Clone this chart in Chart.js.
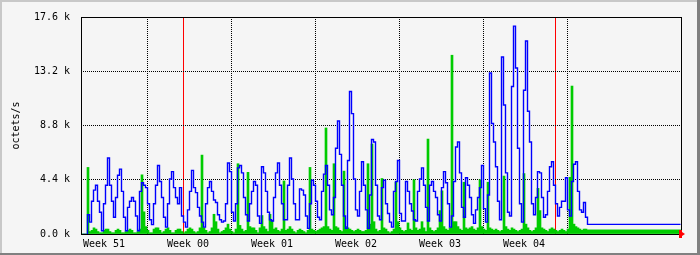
<!DOCTYPE html>
<html>
<head>
<meta charset="utf-8">
<script src="https://cdn.jsdelivr.net/npm/chart.js@4/dist/chart.umd.min.js"></script>
<style>
  html, body { margin: 0; padding: 0; background: #f5f5f5; }
  #wrap { width: 700px; height: 255px; }
</style>
</head>
<body>
<div id="wrap"><canvas id="mrtg" width="700" height="255"></canvas></div>
<script>
// --- Data (k octets/s), one value per 4 hours, oldest on the left ---
const outTraffic = [
  // Week 51
  0,0,0,1.6,1.0, 2.7,3.6,4.0,2.7,1.8, 0.3,2.5,4.0,6.2,4.0, 2.7,1.4,3.0,4.8,5.3,
  3.5,1.4,0.3,2.2,2.7, 3.0,2.7,1.5,0.3,3.5, 4.2,4.0,3.8,
  // Week 00
  2.5,1.2,0.8,2.5,4.0, 5.6,4.3,3.0,1.4,0.6, 2.5,4.5,5.1,3.8,3.0, 2.5,3.8,1.5,1.0,0.6,
  2.0,3.5,5.2,3.8,3.4, 2.2,1.5,1.0,0.6,2.5, 3.8,4.3,3.5,2.8,2.6, 1.6,1.2,1.0,1.1,2.5,
  5.8,5.1,
  // Week 01
  1.8,1.1,2.5,5.4,5.6, 5.0,3.0,1.6,1.1,2.5, 3.5,4.3,4.0,1.5,0.9, 5.5,5.0,3.5,1.8,1.2,
  1.1,3.0,5.0,5.8,4.0, 2.5,1.2,1.2,4.0,6.2, 4.5,2.5,1.2,1.2,3.7, 3.6,3.2,1.5,0.5,2.5,
  4.4,4.0,
  // Week 02
  2.7,1.4,1.2,3.5,4.9, 5.6,4.0,2.0,1.6,3.0, 7.0,9.2,6.5,4.0,1.5, 0.5,6.0,11.6,9.8,4.5,
  2.0,1.5,3.5,5.9,4.0, 2.0,0.5,3.2,7.7,7.5, 4.0,1.5,1.2,3.8,4.4, 2.5,1.7,1.0,0.6,3.5,
  4.3,6.0,
  // Week 03
  1.7,1.1,1.1,4.3,3.5, 2.5,1.9,1.2,1.1,3.5, 4.5,5.4,4.0,2.2,1.1, 4.0,4.3,3.5,3.0,1.6,
  1.1,3.8,5.1,4.2,2.5, 0.6,1.5,4.3,7.1,7.5, 5.0,2.2,1.4,4.6,4.0, 3.0,1.6,0.9,2.0,3.0,
  3.8,5.6,
  // Week 04
  2.1,1.0,3.2,13.1,9.0, 7.5,5.5,2.7,1.2,14.4, 10.5,5.0,1.8,1.5,12.0, 16.9,13.5,7.0,2.5,1.0,
  11.7,15.7,10.0,7.5,2.5, 1.6,3.0,5.1,5.0,3.0, 1.4,1.6,3.5,5.5,5.9, 4.0,2.5,1.5,2.2,2.7,
  2.7,4.6,
  // Week 05 and the idle tail
  2.0,1.5,4.3,5.7,5.9, 3.5,2.0,1.8,2.6,1.4,
  0.82,0.82,0.82,0.82,0.82, 0.82,0.82,0.82,0.82,0.82, 0.82,0.82,0.82,0.82,0.82,
  0.82,0.82,0.82,0.82,0.82, 0.82,0.82,0.82,0.82,0.82, 0.82,0.82,0.82,0.82,0.82,
  0.82,0.82,0.82,0.82,0.82, 0.82,0.82,0.82,0.82,0.82, 0.82,0.82,0.82,0.82,0.82,
  0.82,0.82
];

const inTraffic = [
  // Week 51
  0,0,0,5.4,0.2, 0.3,0.5,0.4,0.2,0.1, 0.1,0.3,0.4,0.4,0.2, 0.1,0.1,0.3,0.4,0.3,
  0.1,0.1,0.2,0.3,0.4, 0.3,0.1,0.1,0.2,0.4, 4.8,1.8,0.6,
  // Week 00
  0.3,0.1,0.1,0.4,0.5, 0.5,0.3,0.1,0.2,0.4, 0.5,0.3,0.1,0.1,0.3, 0.4,0.4,0.2,0.1,0.2,
  0.4,0.5,0.4,0.2,0.1, 0.2,0.5,6.4,0.5,0.3, 0.1,0.2,0.5,1.6,1.0, 0.4,0.1,0.2,0.3,0.5,
  0.8,0.4,
  // Week 01
  0.2,0.1,0.4,5.7,0.7, 0.4,0.2,0.3,5.0,0.6, 0.5,0.5,0.3,0.1,0.5, 1.5,0.6,0.4,0.2,1.6,
  1.1,0.4,0.5,0.3,0.2, 0.4,4.3,0.3,0.4,0.6, 0.4,0.2,0.1,0.3,0.4, 0.3,0.2,0.1,0.3,5.4,
  0.4,0.3,
  // Week 02
  0.2,0.3,0.4,0.5,0.6, 8.6,0.6,0.4,0.3,5.7, 0.6,0.5,0.3,0.2,5.1, 0.6,0.5,0.4,0.3,0.2,
  0.3,0.4,0.3,0.2,0.2, 0.3,5.7,0.8,7.3,1.0, 0.4,0.2,0.3,4.5,0.5, 0.4,0.2,0.1,0.2,0.4,
  4.2,1.0,
  // Week 03
  0.5,0.3,0.2,0.3,0.9, 0.4,0.3,4.4,0.5,0.3, 0.4,1.0,0.5,0.2,7.7, 0.5,0.3,0.2,0.3,0.5,
  1.9,3.5,0.6,0.4,0.3, 0.5,14.5,1.0,1.0,0.6, 0.4,0.3,4.2,0.5,0.4, 0.5,0.6,0.4,0.3,0.5,
  4.4,0.6,
  // Week 04
  0.4,0.3,4.2,0.5,0.4, 0.3,0.4,0.3,0.2,0.3, 4.7,0.6,0.4,0.3,0.5, 0.4,0.3,0.2,0.3,0.4,
  4.9,0.8,0.5,0.3,0.2, 0.3,0.5,3.7,1.9,0.5, 0.4,0.3,0.2,0.4,0.5, 0.4,0.3,0.2,0.3,0.4,
  0.3,0.2,
  // Week 05 and the idle tail
  0.4,4.6,12.0,0.8,0.6, 0.5,0.4,0.3,0.4,0.4,
  0.33,0.33,0.33,0.33,0.33, 0.33,0.33,0.33,0.33,0.33, 0.33,0.33,0.33,0.33,0.33,
  0.33,0.33,0.33,0.33,0.33, 0.33,0.33,0.33,0.33,0.33, 0.33,0.33,0.33,0.33,0.33,
  0.33,0.33,0.33,0.33,0.33, 0.33,0.33,0.33,0.33,0.33, 0.33,0.33,0.33,0.33,0.33,
  0.33,0.33
];

const weekNames = ['Week 51', 'Week 00', 'Week 01', 'Week 02', 'Week 03', 'Week 04'];
const weekLabelSlots = [11, 53, 95, 137, 179, 221];   // slot under each label
const weekGridSlots = [33, 75, 117, 159, 201, 243];    // dotted week boundaries
const monthSlots = [51, 237];                          // red month boundaries
const yTicks = [0, 4.4, 8.8, 13.2, 17.6];
const yMax = 17.6;

const slots = outTraffic.map((_, i) => i);
const monoFont = { family: "'DejaVu Sans Mono', monospace", size: 10 };

// --- Plugins: MRTG-ish bevel, frame and the little red arrow ---
const mrtgDecor = {
    id: 'mrtgDecor',
    beforeDraw(chart) {
        const ctx = chart.ctx;
        const w = chart.width, h = chart.height;
        ctx.save();
        ctx.fillStyle = '#f5f5f5';
        ctx.fillRect(0, 0, w, h);
        ctx.fillStyle = '#c8c8c8';
        ctx.fillRect(0, 0, w, 2);
        ctx.fillRect(0, 0, 2, h);
        ctx.fillStyle = '#808080';
        ctx.fillRect(0, h - 2, w, 2);
        ctx.fillRect(w - 3, 0, 3, h);
        ctx.restore();
    },
    // keep the step line on pixel centres so it stays crisp
    beforeDatasetDraw(chart, args) {
        if (args.meta.type === 'line') {
            chart.ctx.save();
            chart.ctx.translate(0.5, 0.5);
        }
    },
    afterDatasetDraw(chart, args) {
        if (args.meta.type === 'line') chart.ctx.restore();
    },
    afterDraw(chart) {
        const ctx = chart.ctx;
        const a = chart.chartArea;
        ctx.save();
        ctx.strokeStyle = '#000000';
        ctx.lineWidth = 1;
        ctx.strokeRect(a.left + 0.5, a.top + 0.5, a.right - a.left, a.bottom - a.top);
        // red arrow at the end of the time axis
        ctx.fillStyle = '#ff0000';
        ctx.beginPath();
        ctx.moveTo(a.right - 2, a.bottom - 4);
        ctx.lineTo(a.right + 1, a.bottom - 4);
        ctx.lineTo(a.right + 1, a.bottom - 2);
        ctx.lineTo(a.right + 4, a.bottom);
        ctx.lineTo(a.right + 1, a.bottom + 2);
        ctx.lineTo(a.right + 1, a.bottom + 4);
        ctx.lineTo(a.right - 2, a.bottom + 4);
        ctx.closePath();
        ctx.fill();
        ctx.restore();
    }
};

new Chart(document.getElementById('mrtg').getContext('2d'), {
    type: 'bar',
    data: {
        labels: slots,
        datasets: [
            {
                type: 'line',
                label: 'Out',
                data: outTraffic,
                borderColor: '#0000ff',
                borderWidth: 1.4,
                pointRadius: 0,
                stepped: 'middle',
                fill: false,
                order: 0
            },
            {
                label: 'In',
                data: inTraffic,
                backgroundColor: '#00cc00',
                borderWidth: 0,
                barPercentage: 1,
                categoryPercentage: 1,
                order: 1
            }
        ]
    },
    options: {
        responsive: false,
        animation: false,
        devicePixelRatio: 1,
        layout: { padding: { left: 2, top: 14, right: 19, bottom: 0 } },
        plugins: { legend: { display: false }, tooltip: { enabled: false } },
        scales: {
            x: {
                type: 'category',
                position: 'bottom',
                offset: true,
                z: 1,
                grid: {
                    offset: true,
                    drawTicks: false,
                    lineWidth: 1,
                    color: ctx => weekGridSlots.includes(ctx.index) ? '#000000' : 'rgba(0,0,0,0)'
                },
                border: { display: false, dash: [1, 1] },
                ticks: {
                    autoSkip: false,
                    maxRotation: 0,
                    minRotation: 0,
                    padding: 4,
                    color: '#000000',
                    font: monoFont,
                    callback: (val, i) => {
                        const k = weekLabelSlots.indexOf(i);
                        return k >= 0 ? weekNames[k] : '';
                    }
                },
                afterFit: s => { s.height = 21; }
            },
            xMonth: {
                type: 'category',
                position: 'top',
                offset: true,
                z: 2,
                grid: {
                    offset: true,
                    drawTicks: false,
                    lineWidth: 1,
                    color: ctx => monthSlots.includes(ctx.index) ? '#ff0000' : 'rgba(0,0,0,0)'
                },
                border: { display: false },
                ticks: { display: false },
                afterFit: s => { s.height = 0; }
            },
            y: {
                min: 0,
                max: yMax,
                z: 1,
                afterBuildTicks: s => { s.ticks = yTicks.map(v => ({ value: v })); },
                grid: {
                    drawTicks: false,
                    lineWidth: 1,
                    color: ctx => (ctx.tick && ctx.tick.value > 0 && ctx.tick.value < yMax) ? '#000000' : 'rgba(0,0,0,0)'
                },
                border: { display: false, dash: [1, 1] },
                ticks: {
                    padding: 11,
                    color: '#000000',
                    font: monoFont,
                    callback: v => v.toFixed(1) + ' k'
                },
                title: {
                    display: true,
                    text: 'octets/s',
                    color: '#000000',
                    font: monoFont,
                    padding: { top: 8, bottom: 0 }
                },
                afterFit: s => { s.width = 79; }
            }
        }
    },
    plugins: [mrtgDecor]
});
</script>
</body>
</html>
